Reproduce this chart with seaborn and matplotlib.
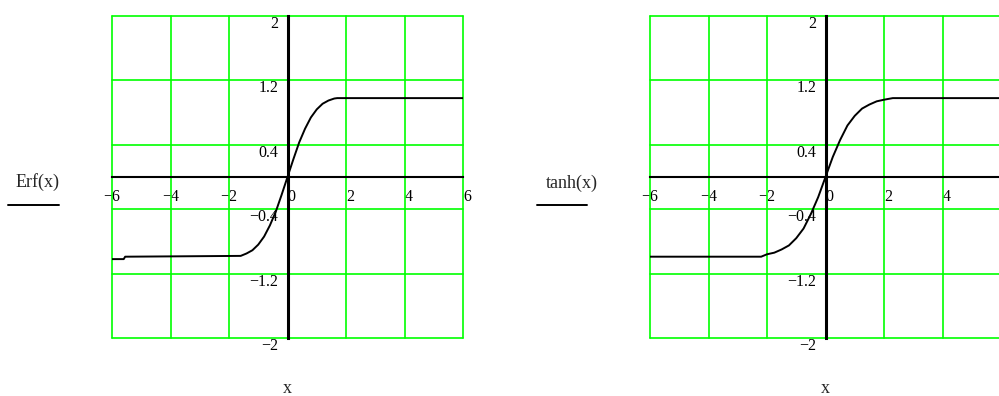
import numpy as np
import pandas as pd
import matplotlib
matplotlib.use("Agg")
import matplotlib.pyplot as plt
import seaborn as sns
from matplotlib.lines import Line2D

# ---- data ----
X_TICKS = [-6, -4, -2, 0, 2, 4, 6]
X_LABELS = ["\u22126", "\u22124", "\u22122", "0", "2", "4", "6"]
Y_TICKS = [2, 1.2, 0.4, -0.4, -1.2, -2]
Y_LABELS = ["2", "1.2", "0.4", "\u22120.4", "\u22121.2", "\u22122"]

erf_x = [-6.0, -5.6, -5.55, -1.6, -1.4, -1.2, -1.0, -0.8, -0.6, -0.4, -0.2, 0.0,
         0.2, 0.4, 0.6, 0.8, 1.0, 1.2, 1.4, 1.6, 1.7, 6.0]
erf_y = [-1.02, -1.02, -0.99, -0.98, -0.95, -0.91, -0.84, -0.74, -0.60, -0.43, -0.22, 0.0,
         0.22, 0.43, 0.60, 0.74, 0.84, 0.91, 0.95, 0.975, 0.98, 0.98]

tanh_x = [-6.0, -2.2, -2.0, -1.75, -1.5, -1.25, -1.0, -0.75, -0.5, -0.25, 0.0,
          0.25, 0.5, 0.75, 1.0, 1.25, 1.5, 1.75, 2.0, 2.3, 6.0]
tanh_y = [-0.99, -0.99, -0.96, -0.94, -0.90, -0.85, -0.76, -0.64, -0.46, -0.25, 0.0,
          0.25, 0.46, 0.64, 0.76, 0.85, 0.90, 0.94, 0.96, 0.98, 0.98]

# ---- styling ----
sns.set_style("white")
plt.rcParams["font.family"] = ["Liberation Serif", "DejaVu Serif"]
plt.rcParams["axes.unicode_minus"] = True

GREEN = "#00FF00"
W, H = 999, 396
fig = plt.figure(figsize=(W / 100, H / 100), dpi=100)


def panel(left_px, xs, ys, label, label_center, underline, show_last_x=True):
    ax = fig.add_axes([left_px / W, 58 / H, 351 / W, 322 / H])
    ax.set_facecolor("white")
    for v in X_TICKS:
        ax.axvline(v, color=GREEN, lw=1.2, clip_on=False, zorder=1)
    for v in Y_TICKS:
        ax.axhline(v, color=GREEN, lw=1.2, clip_on=False, zorder=1)
    df = pd.DataFrame({"x": xs, "y": ys})
    sns.lineplot(data=df, x="x", y="y", estimator=None, sort=False,
                 color="black", lw=1.4, ax=ax, zorder=4)
    ax.set_xlim(-6, 6)
    ax.set_ylim(-2, 2)
    ax.set_xlabel("")
    ax.set_ylabel("")
    ax.spines["left"].set_position("zero")
    ax.spines["bottom"].set_position("zero")
    ax.spines["top"].set_visible(False)
    ax.spines["right"].set_visible(False)
    ax.spines["left"].set_linewidth(2.2)
    ax.spines["bottom"].set_linewidth(1.5)
    ax.spines["left"].set_color("black")
    ax.spines["bottom"].set_color("black")
    ax.spines["left"].set_zorder(3)
    ax.spines["bottom"].set_zorder(3)
    ax.set_xticks(X_TICKS)
    ax.set_xticklabels(X_LABELS)
    ax.set_yticks(Y_TICKS)
    ax.set_yticklabels(Y_LABELS)
    ax.tick_params(axis="x", direction="inout", length=11, width=1.4, pad=3,
                   labelsize=11.5, colors="black")
    ax.tick_params(axis="y", direction="inout", length=12, width=1.4, pad=0.5,
                   labelsize=11.5, colors="black")
    for lab in ax.get_yticklabels():
        lab.set_va("top")
    xlabs = ax.get_xticklabels()
    for lab, v in zip(xlabs, X_TICKS):
        lab.set_ha("center" if v < 0 else "left")
    if not show_last_x:
        xlabs[-1].set_visible(False)
    ax.text(0.5, -0.158, "x", transform=ax.transAxes, ha="center",
            va="center", fontsize=13)
    fig.text(label_center[0] / W, 1 - label_center[1] / H, label,
             ha="center", va="center", fontsize=13)
    fig.add_artist(Line2D([underline[0] / W, underline[1] / W],
                          [1 - underline[2] / H, 1 - underline[2] / H],
                          color="black", lw=1.4, transform=fig.transFigure))
    return ax


panel(112, erf_x, erf_y, "Erf(x)", (37.5, 182), (8, 59, 205))
panel(650, tanh_x, tanh_y, "tanh(x)", (572, 183), (537, 587, 205), show_last_x=False)

fig.savefig("out.png", dpi=100)
